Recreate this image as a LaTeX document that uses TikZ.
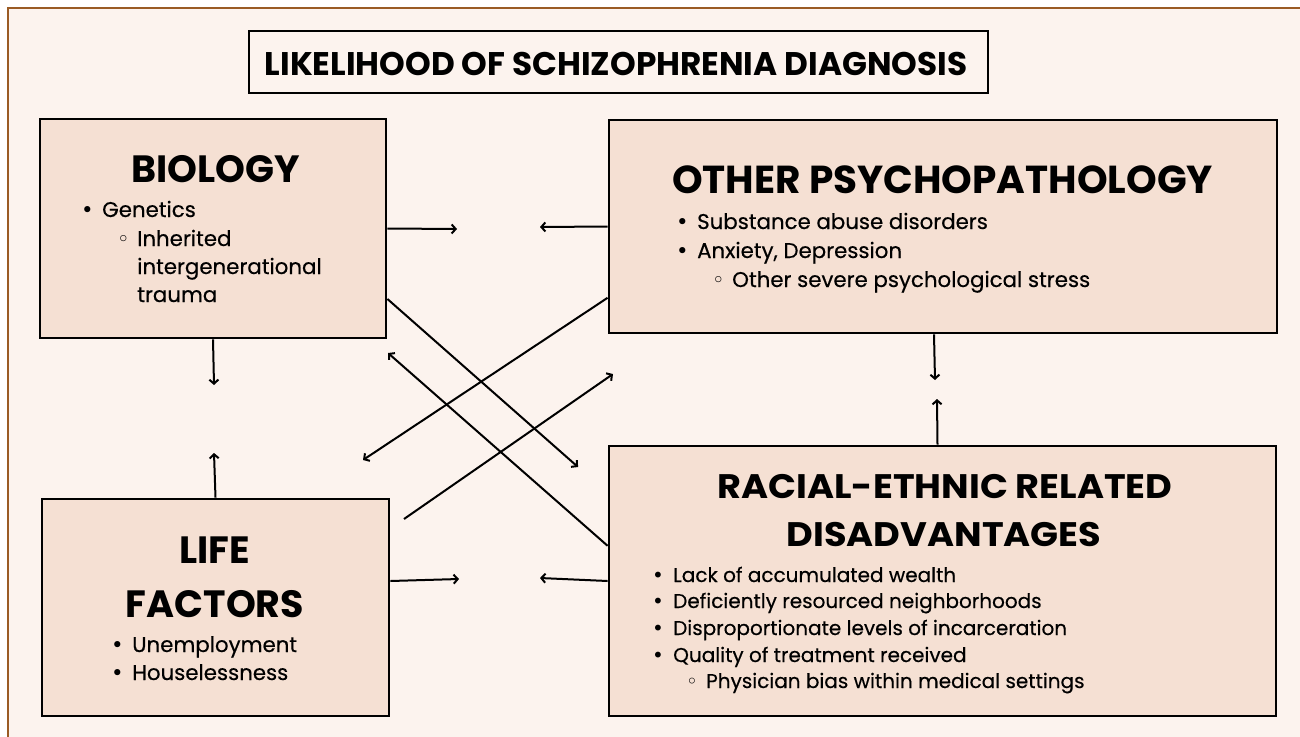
\documentclass[tikz,border=0pt]{standalone}
\usepackage{fontspec}
\setmainfont{Poppins}
\newfontfamily\itemfont{Poppins}[FakeBold=0.4]
\newfontfamily\symfont{DejaVu Sans}
\usetikzlibrary{arrows.meta,calc}

\definecolor{paper}{HTML}{FCF3EE}
\definecolor{boxfill}{HTML}{F5E0D3}
\definecolor{frame}{HTML}{9A5B24}

\newcommand{\bul}{\makebox[17pt][l]{\hspace*{-4pt}{\symfont •}}}
\newcommand{\subbul}{\makebox[18pt][l]{\hspace*{-2pt}{\symfont ◦}}}

\begin{document}
\begin{tikzpicture}[x=1pt, y=-1pt,
    box/.style = {draw, line width=2.8pt, fill=boxfill, inner sep=0pt},
    head/.style = {font=\fontsize{38}{40}\selectfont\bfseries, anchor=base, inner sep=0pt},
    item/.style = {font=\fontsize{21.3}{24}\selectfont\itemfont, anchor=base west, inner sep=0pt},
    smallitem/.style = {item, font=\fontsize{20}{24}\selectfont\itemfont},
    link/.style = {line width=2pt, -{Straight Barb[length=4pt,width=9pt]}}]
    \useasboundingbox (0,0) rectangle (1300,736);
    \clip (0,0) rectangle (1300,736);
    \fill[paper] (8,8) rectangle (1320,760);
    \draw[frame, line width=2pt] (1320,8) -- (8,8) -- (8,760);

    % title
    \node[draw, line width=2.8pt, fill=paper, minimum width=739, minimum height=62] (title) at (618.5,62) {};
    \node[font=\fontsize{32.7}{35}\selectfont\bfseries, anchor=base, inner sep=0pt] (titletext) at (616,75) {LIKELIHOOD OF SCHIZOPHRENIA DIAGNOSIS};

    % the four boxes
    \node[box, minimum width=346, minimum height=219] (bio) at (213,228.5) {};
    \node[box, minimum width=668, minimum height=213] (other) at (943,226.5) {};
    \node[box, minimum width=347, minimum height=217] (life) at (215.5,607.5) {};
    \node[box, minimum width=667, minimum height=270] (racial) at (942.5,581) {};

    % biology
    \node[head] (biohead) at (215.5,182) {BIOLOGY};
    \node[item] (bio1) at (85,217) {\bul Genetics};
    \node[item] (bio2) at (119,246) {\subbul Inherited};
    \node[item] (bio3) at (137,274) {intergenerational};
    \node[item] (bio4) at (137,302) {trauma};

    % other psychopathology
    \node[head, font=\fontsize{39}{41}\selectfont\bfseries] (otherhead) at (942.5,193) {OTHER PSYCHOPATHOLOGY};
    \node[item] (other1) at (680,229) {\bul Substance abuse disorders};
    \node[item] (other2) at (680,258) {\bul Anxiety, Depression};
    \node[item] (other3) at (714,287) {\subbul Other severe psychological stress};

    % life factors
    \node[head] (lifehead1) at (215,563) {LIFE};
    \node[head] (lifehead2) at (215,617) {FACTORS};
    \node[item] (life1) at (115,652) {\bul Unemployment};
    \node[item] (life2) at (115,680) {\bul Houselessness};

    % racial-ethnic
    \node[head, font=\fontsize{34}{36}\selectfont\bfseries] (racehead1) at (945,498) {\scalebox{1.08}[1]{RACIAL-ETHNIC RELATED}};
    \node[head, font=\fontsize{34}{36}\selectfont\bfseries] (racehead2) at (944,546) {\scalebox{1.08}[1]{DISADVANTAGES}};
    \node[smallitem] (race1) at (656,582) {\bul Lack of accumulated wealth};
    \node[smallitem] (race2) at (656,608) {\bul Deficiently resourced neighborhoods};
    \node[smallitem] (race3) at (656,635) {\bul Disproportionate levels of incarceration};
    \node[smallitem] (race4) at (656,662) {\bul Quality of treatment received};
    \node[smallitem] (race5) at (688,688) {\subbul Physician bias within medical settings};

    % arrow ends
    \coordinate (e1) at (457,229);
    \coordinate (e2) at (540,227);
    \coordinate (e3) at (578,467);
    \coordinate (e4) at (363,460);
    \coordinate (s5) at (404,519);
    \coordinate (e5) at (613,374);
    \coordinate (e6) at (388,353);
    \coordinate (e7) at (214,385);
    \coordinate (e8) at (214,453);
    \coordinate (e9) at (935,380);
    \coordinate (e10) at (937,399);
    \coordinate (e11) at (459,579);
    \coordinate (e12) at (540,578);

    \draw[link] (bio.east) -- (e1);
    \draw[link] (other.west) -- (e2);
    \draw[link] (bio.-22) -- (e3);
    \draw[link] (other.192) -- (e4);
    \draw[link] (s5) -- (e5);
    \draw[link] (racial.174) -- (e6);
    \draw[link] (bio.south) -- (e7);
    \draw[link] (life.north) -- (e8);
    \draw[link] ([xshift=-9pt]other.south) -- (e9);
    \draw[link] ([xshift=-5pt]racial.north) -- (e10);
    \draw[link] (life.east |- racial.west) -- (e11);
    \draw[link] (racial.west) -- (e12);
\end{tikzpicture}
\end{document}
